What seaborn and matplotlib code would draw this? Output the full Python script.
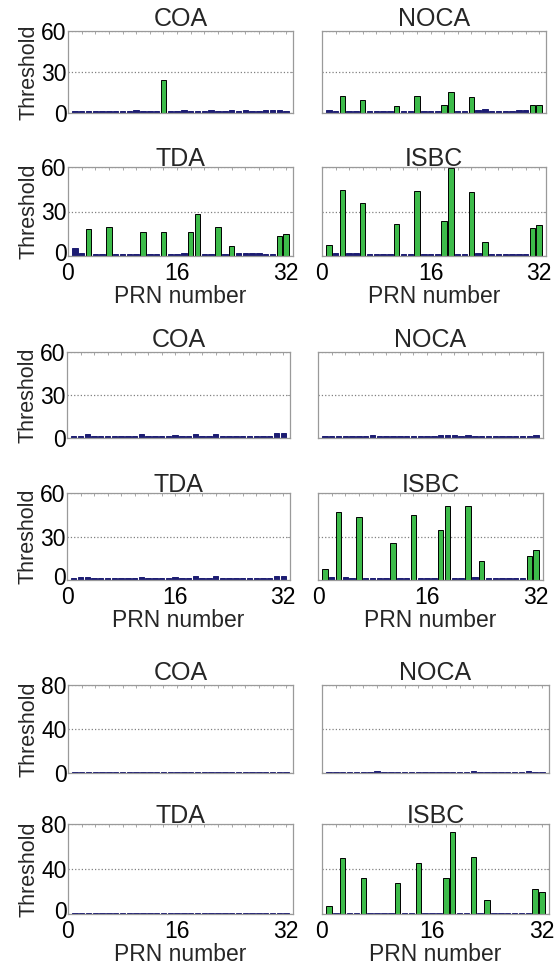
import matplotlib
matplotlib.use("Agg")
import matplotlib.pyplot as plt
import matplotlib.transforms as mtransforms
import pandas as pd
import seaborn as sns

sns.set_style("white")
plt.rcParams['font.family'] = ['Liberation Sans', 'DejaVu Sans']

prn = list(range(1, 33))
methods = ["COA", "NOCA", "TDA", "ISBC"]

# ---- Scenario 1 ----
s1_coa = [1.5, 1.5, 1.5, 1.5, 1.5, 1.5, 1.5, 1.5, 1.5, 2, 1.5, 1.5, 1.5, 24, 1.5, 1.5, 2, 1.5, 1.5, 1.5, 2, 1.5,
          1.5, 2, 1.5, 2, 1.5, 1.5, 2.5, 2.5, 2, 1.5]
s1_noca = [2.5, 1.5, 12.2, 1.5, 1.5, 9.3, 1.2, 1.2, 1.2, 1.2, 5.4, 1.5, 1.5, 12.7, 1.5, 1.5, 1.5, 6.1, 15.2, 1.5,
           1.5, 12, 2, 3, 1.2, 1.2, 1.2, 1.2, 2, 2, 6.1, 6.1]
s1_tda = [5.7, 2, 18.3, 1.5, 1.5, 19.7, 1.5, 1.5, 1.5, 1.5, 16.3, 1.5, 1.5, 16.3, 1.5, 1.5, 2.2, 16.3, 28.3, 1.5,
          1.5, 19.7, 1.5, 6.6, 1.8, 1.8, 1.8, 1.8, 1.5, 1.5, 13.6, 14.5]
s1_isbc = [7.7, 2, 44.2, 2, 2, 35.5, 1.2, 1.2, 1.2, 1.2, 21.3, 1.2, 1.2, 43.5, 1.2, 1.2, 1.2, 23.8, 59.5,
           1.2, 1.2, 43, 2, 9.5, 1.2, 1.2, 1.2, 1.2, 1.2, 1.2, 18.6, 20.8]

# ---- Scenario 2 ----
s2_coa = [1.5, 1.5, 2.5, 1.5, 1.5, 1.5, 1.5, 1.5, 1.5, 1.5, 2.5, 1.5, 1.5, 1.5, 1.5, 2, 1.5, 1.5, 3, 1.5, 1.5,
          2.5, 1.5, 1.5, 1.5, 1.5, 1.5, 1.5, 1.5, 1.5, 3.5, 3.5]
s2_noca = [1.5, 1.5, 1.5, 1.5, 1.5, 1.5, 1.5, 2, 1.5, 1.5, 1.5, 1.5, 1.5, 1.5, 1.5, 1.5, 1.5, 1.8, 2, 1.8, 1.5,
           2, 1.5, 1.5, 1.5, 1.5, 1.5, 1.5, 1.5, 1.5, 1.5, 1.8]
s2_tda = [1.5, 2, 2.3, 1.5, 1.5, 1.5, 1.5, 1.5, 1.5, 1.5, 2.3, 1.5, 1.5, 1.5, 1.5, 1.8, 1.5, 1.5, 3, 1.5, 1.5,
          2.5, 1.5, 1.5, 1.5, 1.5, 1.5, 1.5, 1.5, 1.5, 3, 3]
s2_isbc = [7.7, 2, 46.8, 2, 1.2, 43.2, 1.2, 1.2, 1.2, 1.2, 25.7, 1.2, 1.2, 45, 1.2, 1.2, 1.2, 34.3, 50.7,
           1.2, 1.2, 50.9, 2, 13.4, 1.2, 1.2, 1.2, 1.2, 1.2, 1.2, 16.8, 20.9]

# ---- Scenario 3 ----
s3_coa = [1.0] * 32
s3_noca = [1.2, 1.2, 1.2, 1.2, 1.2, 1.2, 1.2, 1.5, 1.2, 1.2, 1.2, 1.2, 1.2, 1.2, 1.2, 1.2, 1.2, 1.2, 1.2, 1.2,
           1.2, 1.5, 1.2, 1.2, 1.2, 1.2, 1.2, 1.2, 1.2, 1.5, 1.2, 1.2]
s3_tda = [1.0] * 32
s3_isbc = [7.2, 1.0, 49.9, 1.0, 1.0, 32.2, 1.0, 1.0, 1.0, 1.0, 27.2, 1.0, 1.0, 45.7, 1.0, 1.0, 1.0, 32.2, 72.5,
           1.0, 1.0, 50.7, 1.0, 12.2, 1.0, 1.0, 1.0, 1.0, 1.0, 1.0, 22.1, 20.0]

# PRNs flagged by each method
flag_s1_coa = [14]
flag_s1_noca = [3, 6, 11, 14, 18, 19, 22, 31, 32]
flag_s1_tda = [3, 6, 11, 14, 18, 19, 22, 24, 31, 32]
flag_isbc = [1, 3, 6, 11, 14, 18, 19, 22, 24, 31, 32]

y_ticks_60 = [0, 30, 60]
y_ticks_80 = [0, 40, 80]
x_ticks = [0, 16, 32]

scenarios = [
    dict(values=[s1_coa, s1_noca, s1_tda, s1_isbc],
         flags=[flag_s1_coa, flag_s1_noca, flag_s1_tda, flag_isbc], yticks=y_ticks_60,
         cols=[(68, 293), (322, 546)], rows=[(31, 113), (167, 256)]),
    dict(values=[s2_coa, s2_noca, s2_tda, s2_isbc],
         flags=[[], [], [], flag_isbc], yticks=y_ticks_60,
         cols=[(67, 290), (318, 543)], rows=[(352, 438), (493, 580)]),
    dict(values=[s3_coa, s3_noca, s3_tda, s3_isbc],
         flags=[[], [], [], flag_isbc], yticks=y_ticks_80,
         cols=[(68, 293), (322, 549)], rows=[(685, 773), (824, 914)]),
]

NAVY = "#1c1c72"
GREEN = "#3dbb4a"
W, H = 554, 965

fig = plt.figure(figsize=(W / 100, H / 100), dpi=100)


def draw_panel(ax, values, flagged, yticks, title, show_x, show_y):
    df = pd.DataFrame({
        "PRN": prn,
        "Threshold": values,
        "flag": ["alarm" if p in flagged else "normal" for p in prn],
    })
    levels = [lv for lv in ["normal", "alarm"] if lv in set(df["flag"])]
    sns.barplot(data=df, x="PRN", y="Threshold", hue="flag", hue_order=levels,
                palette={"normal": NAVY, "alarm": GREEN}, dodge=False,
                native_scale=True, width=0.8, saturation=1, legend=False,
                linewidth=0.7, ax=ax)
    for patch in ax.patches:
        fc = matplotlib.colors.to_hex(patch.get_facecolor())
        patch.set_edgecolor("black" if fc == GREEN else NAVY)

    ax.set_xlim(0, 33)
    ax.set_ylim(0, yticks[-1])
    ax.set_xticks(x_ticks)
    ax.set_xticks(range(0, 33, 2), minor=True)
    ax.set_yticks(yticks)
    ax.yaxis.grid(True, linestyle=":", color="#808080", linewidth=0.9)
    ax.xaxis.grid(False)
    ax.set_axisbelow(True)
    for sp in ax.spines.values():
        sp.set_visible(True)
        sp.set_color("#9a9a9a")
        sp.set_linewidth(0.9)
    ax.tick_params(axis="both", which="both", direction="in", length=2, width=0.6,
                   color="#9a9a9a", labelcolor="black", labelsize=16.5, pad=1,
                   top=True, right=True)
    ax.tick_params(axis="x", pad=4)
    ax.set_title(title, fontsize=18, pad=1)
    if show_x:
        ax.set_xlabel("PRN number", fontsize=16.5, labelpad=0)
    else:
        ax.set_xlabel("")
        ax.set_xticklabels([])
    if show_y:
        ax.set_ylabel("Threshold", fontsize=15.5, labelpad=1)
        if show_x:
            # lift the y "0" so it sits just above the x "0" in the corner
            lift = mtransforms.ScaledTranslation(0, 3 / 72, fig.dpi_scale_trans)
            lbl = ax.get_yticklabels()[0]
            lbl.set_transform(lbl.get_transform() + lift)
    else:
        ax.set_ylabel("")
        ax.set_yticklabels([])


for sc in scenarios:
    for k, name in enumerate(methods):
        r, c = divmod(k, 2)
        x0, x1 = sc["cols"][c]
        y0, y1 = sc["rows"][r]
        ax = fig.add_axes([x0 / W, 1 - y1 / H, (x1 - x0) / W, (y1 - y0) / H])
        draw_panel(ax, sc["values"][k], sc["flags"][k], sc["yticks"], name,
                   show_x=(r == 1), show_y=(c == 0))

fig.savefig("out.png", dpi=100, facecolor="white")
